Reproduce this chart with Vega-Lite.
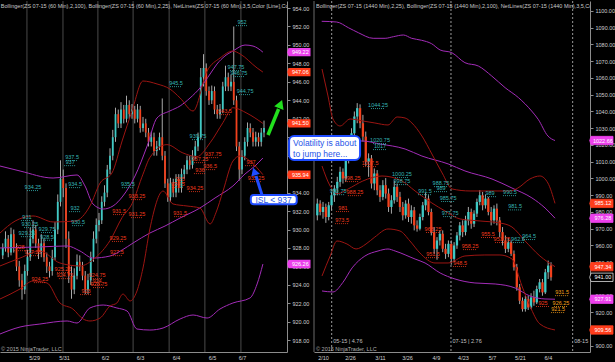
{
"$schema": "https://vega.github.io/schema/vega-lite/v6.json",
"background": "#000000",
"padding": {"left": 0, "top": 0, "right": 0, "bottom": 1},
"bounds": "flush",
"spacing": 27,
"config": {
  "view": {"stroke": null},
  "scale": {"continuousPadding": 0},
  "axis": {"labelFont": "Liberation Sans", "labelFontSize": 5.5, "labelColor": "#d0d0d0", "domainColor": "#8c8c8c", "tickColor": "#8c8c8c", "tickSize": 3, "grid": false, "labelOverlap": false},
  "text": {"font": "Liberation Sans", "fontSize": 5.5}
},
"datasets": {
  "candlesL": [
    {"i":1,"o":927.2,"h":928.5,"l":926.8,"c":928.0},{"i":2,"o":928.0,"h":929.8,"l":927.6,"c":929.0},{"i":3,"o":929.0,"h":929.4,"l":927.0,"c":927.5},{"i":4,"o":927.5,"h":930.2,"l":927.2,"c":929.5},{"i":5,"o":929.5,"h":930.0,"l":927.5,"c":928.0},{"i":6,"o":928.0,"h":928.5,"l":925.5,"c":926.0},{"i":7,"o":926.0,"h":926.6,"l":923.8,"c":924.5},{"i":8,"o":924.5,"h":925.2,"l":922.4,"c":923.5},{"i":9,"o":923.5,"h":926.2,"l":923.0,"c":925.5},{"i":10,"o":925.5,"h":927.8,"l":925.0,"c":927.0},
    {"i":11,"o":927.0,"h":930.2,"l":926.6,"c":929.0},{"i":12,"o":929.0,"h":931.0,"l":928.5,"c":930.0},{"i":13,"o":930.0,"h":930.5,"l":928.0,"c":928.5},{"i":14,"o":928.5,"h":929.0,"l":926.8,"c":927.5},{"i":15,"o":927.5,"h":929.5,"l":927.0,"c":928.5},{"i":16,"o":928.5,"h":929.0,"l":926.5,"c":927.0},{"i":17,"o":927.0,"h":927.5,"l":925.3,"c":926.0},{"i":18,"o":926.0,"h":926.5,"l":924.8,"c":925.5},{"i":19,"o":925.5,"h":927.8,"l":925.0,"c":927.0},{"i":20,"o":927.0,"h":930.8,"l":926.7,"c":930.0},
    {"i":21,"o":930.0,"h":933.8,"l":929.5,"c":933.0},{"i":22,"o":933.0,"h":937.5,"l":932.5,"c":935.5},{"i":23,"o":935.5,"h":936.5,"l":933.5,"c":934.5},{"i":24,"o":934.5,"h":935.0,"l":928.0,"c":929.0},{"i":25,"o":929.0,"h":929.8,"l":924.2,"c":925.0},{"i":26,"o":925.0,"h":926.0,"l":922.5,"c":923.5},{"i":27,"o":923.5,"h":925.8,"l":923.0,"c":925.0},{"i":28,"o":925.0,"h":927.3,"l":924.6,"c":926.5},{"i":29,"o":926.5,"h":927.2,"l":925.5,"c":926.0},{"i":30,"o":926.0,"h":926.5,"l":924.5,"c":925.0},
    {"i":31,"o":925.0,"h":925.5,"l":923.0,"c":923.5},{"i":32,"o":923.5,"h":925.2,"l":923.0,"c":924.5},{"i":33,"o":924.5,"h":927.6,"l":924.0,"c":927.0},{"i":34,"o":927.0,"h":929.8,"l":926.5,"c":929.0},{"i":35,"o":929.0,"h":931.2,"l":928.5,"c":930.5},{"i":36,"o":930.5,"h":931.8,"l":929.8,"c":931.0},{"i":37,"o":931.0,"h":933.6,"l":930.6,"c":933.0},{"i":38,"o":933.0,"h":934.8,"l":932.5,"c":934.0},{"i":39,"o":934.0,"h":937.0,"l":933.5,"c":936.5},{"i":40,"o":936.5,"h":938.8,"l":936.0,"c":938.0},
    {"i":41,"o":938.0,"h":940.8,"l":937.5,"c":940.0},{"i":42,"o":940.0,"h":943.2,"l":939.5,"c":942.5},{"i":43,"o":942.5,"h":943.0,"l":941.0,"c":941.5},{"i":44,"o":941.5,"h":943.8,"l":941.0,"c":943.0},{"i":45,"o":943.0,"h":943.5,"l":941.5,"c":942.0},{"i":46,"o":942.0,"h":944.5,"l":941.6,"c":943.5},{"i":47,"o":943.5,"h":944.0,"l":942.0,"c":942.5},{"i":48,"o":942.5,"h":943.6,"l":942.0,"c":943.0},{"i":49,"o":943.0,"h":943.4,"l":941.5,"c":942.0},{"i":50,"o":942.0,"h":943.6,"l":941.6,"c":943.0},
    {"i":51,"o":943.0,"h":943.4,"l":940.5,"c":941.0},{"i":52,"o":941.0,"h":942.2,"l":940.6,"c":941.5},{"i":53,"o":941.5,"h":942.0,"l":940.0,"c":940.5},{"i":54,"o":940.5,"h":941.0,"l":939.0,"c":939.5},{"i":55,"o":939.5,"h":940.6,"l":939.0,"c":940.0},{"i":56,"o":940.0,"h":940.5,"l":938.0,"c":938.5},{"i":57,"o":938.5,"h":939.6,"l":938.0,"c":939.0},{"i":58,"o":939.0,"h":940.5,"l":938.6,"c":940.0},{"i":59,"o":940.0,"h":944.2,"l":937.5,"c":938.0},{"i":60,"o":938.0,"h":938.5,"l":934.5,"c":935.0},
    {"i":61,"o":935.0,"h":935.5,"l":933.0,"c":933.5},{"i":62,"o":933.5,"h":935.6,"l":933.0,"c":935.0},{"i":63,"o":935.0,"h":935.5,"l":933.5,"c":934.0},{"i":64,"o":934.0,"h":936.0,"l":933.5,"c":935.5},{"i":65,"o":935.5,"h":936.0,"l":934.0,"c":934.5},{"i":66,"o":934.5,"h":936.6,"l":934.0,"c":936.0},{"i":67,"o":936.0,"h":937.0,"l":935.5,"c":936.5},{"i":68,"o":936.5,"h":938.0,"l":936.0,"c":937.5},{"i":69,"o":937.5,"h":938.0,"l":936.5,"c":937.0},{"i":70,"o":937.0,"h":938.6,"l":936.6,"c":938.0},
    {"i":71,"o":938.0,"h":939.6,"l":937.6,"c":939.0},{"i":72,"o":939.0,"h":940.5,"l":938.5,"c":940.0},{"i":73,"o":940.0,"h":947.5,"l":939.8,"c":946.5},{"i":74,"o":946.5,"h":949.0,"l":945.5,"c":947.5},{"i":75,"o":947.5,"h":948.0,"l":944.5,"c":945.0},{"i":76,"o":945.0,"h":945.5,"l":943.5,"c":944.0},{"i":77,"o":944.0,"h":945.6,"l":943.6,"c":945.0},{"i":78,"o":945.0,"h":945.5,"l":942.5,"c":943.0},{"i":79,"o":943.0,"h":943.5,"l":942.0,"c":942.5},{"i":80,"o":942.5,"h":943.6,"l":942.0,"c":943.0},
    {"i":81,"o":943.0,"h":946.0,"l":942.6,"c":945.5},{"i":82,"o":945.5,"h":947.75,"l":945.0,"c":946.5},{"i":83,"o":946.5,"h":947.0,"l":945.0,"c":945.5},{"i":84,"o":945.5,"h":946.8,"l":945.0,"c":946.0},{"i":85,"o":946.0,"h":952.0,"l":943.5,"c":944.0},{"i":86,"o":944.0,"h":944.5,"l":938.5,"c":939.0},{"i":87,"o":939.0,"h":939.5,"l":935.3,"c":936.5},{"i":88,"o":936.5,"h":938.6,"l":936.0,"c":938.0},{"i":89,"o":938.0,"h":940.0,"l":937.5,"c":939.5},{"i":90,"o":939.5,"h":941.6,"l":939.0,"c":941.0},
    {"i":91,"o":941.0,"h":941.5,"l":940.0,"c":940.5},{"i":92,"o":940.5,"h":941.0,"l":939.0,"c":939.5},{"i":93,"o":939.5,"h":940.6,"l":939.0,"c":940.0},{"i":94,"o":940.0,"h":940.5,"l":939.0,"c":939.5},{"i":95,"o":939.5,"h":941.0,"l":939.0,"c":940.5},{"i":96,"o":940.5,"h":941.8,"l":940.0,"c":941.0}
  ],
  "candlesR": [
    {"i":-2,"o":978,"h":988,"l":975,"c":985},{"i":-1,"o":985,"h":987,"l":978,"c":980},{"i":0,"o":980,"h":986,"l":976,"c":983},{"i":1,"o":983,"h":985,"l":973.5,"c":977},{"i":2,"o":977,"h":986,"l":975,"c":984},{"i":3,"o":984,"h":992,"l":981,"c":990},{"i":4,"o":990,"h":996,"l":986,"c":994},{"i":5,"o":994,"h":1001,"l":990,"c":998},{"i":6,"o":998,"h":1007,"l":995,"c":1004},{"i":7,"o":1004,"h":1006,"l":997,"c":1000},
    {"i":8,"o":1000,"h":1014,"l":998,"c":1012},{"i":9,"o":1012,"h":1022,"l":1009,"c":1020},{"i":10,"o":1020,"h":1030,"l":1016,"c":1027},{"i":11,"o":1027,"h":1040,"l":1024,"c":1037},{"i":12,"o":1037,"h":1045,"l":1033,"c":1042},{"i":13,"o":1042,"h":1044.25,"l":1030,"c":1033},{"i":14,"o":1033,"h":1038,"l":1022,"c":1025},{"i":15,"o":1025,"h":1028,"l":1007.5,"c":1010},{"i":16,"o":1010,"h":1015,"l":1001,"c":1012},{"i":17,"o":1012,"h":1014,"l":994,"c":997},
    {"i":18,"o":997,"h":1006,"l":993,"c":1003},{"i":19,"o":1003,"h":1005,"l":990,"c":993},{"i":20,"o":993,"h":996,"l":986,"c":989},{"i":21,"o":989,"h":999,"l":987,"c":996},{"i":22,"o":996,"h":1000.25,"l":988,"c":991},{"i":23,"o":991,"h":994,"l":980,"c":983},{"i":24,"o":983,"h":990,"l":979,"c":987},{"i":25,"o":987,"h":998.75,"l":985,"c":995},{"i":26,"o":995,"h":997,"l":986,"c":989},{"i":27,"o":989,"h":992,"l":980,"c":983},
    {"i":28,"o":983,"h":986,"l":975,"c":978},{"i":29,"o":978,"h":987,"l":976,"c":985},{"i":30,"o":985,"h":988,"l":974,"c":977},{"i":31,"o":977,"h":984,"l":973,"c":981},{"i":32,"o":981,"h":983,"l":969,"c":972},{"i":33,"o":972,"h":975,"l":968.25,"c":970},{"i":34,"o":970,"h":979,"l":969,"c":977},{"i":35,"o":977,"h":986,"l":975,"c":984},{"i":36,"o":984,"h":991.5,"l":981,"c":988},{"i":37,"o":988,"h":990,"l":978,"c":980},
    {"i":38,"o":980,"h":982,"l":966,"c":968},{"i":39,"o":968,"h":971,"l":955,"c":958},{"i":40,"o":958,"h":965,"l":951.5,"c":963},{"i":41,"o":963,"h":969,"l":960,"c":967},{"i":42,"o":967,"h":969,"l":956,"c":958},{"i":43,"o":958,"h":961,"l":952,"c":955},{"i":44,"o":955,"h":963,"l":953,"c":961},{"i":45,"o":961,"h":963,"l":948.5,"c":952},{"i":46,"o":952,"h":962,"l":950,"c":960},{"i":47,"o":960,"h":968,"l":958,"c":966},
    {"i":48,"o":966,"h":974,"l":963,"c":972},{"i":49,"o":972,"h":975,"l":965,"c":968},{"i":50,"o":968,"h":977.75,"l":966,"c":975},{"i":51,"o":975,"h":983,"l":972,"c":980},{"i":52,"o":980,"h":982,"l":970,"c":973},{"i":53,"o":973,"h":981,"l":971,"c":979},{"i":54,"o":979,"h":988,"l":977,"c":986},{"i":55,"o":986,"h":993,"l":984,"c":990},{"i":56,"o":990,"h":992,"l":981,"c":984},{"i":57,"o":984,"h":990.5,"l":982,"c":988},
    {"i":58,"o":988,"h":989,"l":978,"c":980},{"i":59,"o":980,"h":983,"l":972,"c":975},{"i":60,"o":975,"h":984,"l":973,"c":982},{"i":61,"o":982,"h":985,"l":972,"c":975},{"i":62,"o":975,"h":977,"l":965,"c":968},{"i":63,"o":968,"h":971,"l":960,"c":963},{"i":64,"o":963,"h":966,"l":955.5,"c":958},{"i":65,"o":958,"h":964.5,"l":956,"c":962},{"i":66,"o":962,"h":963,"l":953.75,"c":955},{"i":67,"o":955,"h":957,"l":945,"c":947},
    {"i":68,"o":947,"h":949,"l":933,"c":935},{"i":69,"o":935,"h":937,"l":925,"c":927},{"i":70,"o":927,"h":929,"l":920.5,"c":922},{"i":71,"o":922,"h":930,"l":920.5,"c":928},{"i":72,"o":928,"h":930,"l":921.5,"c":923},{"i":73,"o":923,"h":931.5,"l":922,"c":929},{"i":74,"o":929,"h":933,"l":924,"c":926},{"i":75,"o":926,"h":936,"l":925,"c":934},{"i":76,"o":934,"h":940,"l":932,"c":938},{"i":77,"o":938,"h":940,"l":930,"c":932},
    {"i":78,"o":932,"h":946,"l":931,"c":944},{"i":79,"o":944,"h":951,"l":940,"c":948},{"i":80,"o":948,"h":950,"l":939,"c":941}
  ],
  "bandsL": [
    {"b":"pu","i":0,"v":936.88},{"b":"pu","i":7.3,"v":936.34},{"b":"pu","i":19.3,"v":935.58},{"b":"pu","i":28,"v":935.91},{"b":"pu","i":30.9,"v":934.72},{"b":"pu","i":33.8,"v":932.77},{"b":"pu","i":37.5,"v":932.22},{"b":"pu","i":41.1,"v":932.55},{"b":"pu","i":44.7,"v":933.63},{"b":"pu","i":49.1,"v":935.8},{"b":"pu","i":53.5,"v":939.05},{"b":"pu","i":57.1,"v":942.09},{"b":"pu","i":61.8,"v":942.85},{"b":"pu","i":65.5,"v":943.39},{"b":"pu","i":69.1,"v":944.25},{"b":"pu","i":72.7,"v":945.33},{"b":"pu","i":76.4,"v":946.85},{"b":"pu","i":78.9,"v":947.93},{"b":"pu","i":81.8,"v":948.8},{"b":"pu","i":84.7,"v":949.34},{"b":"pu","i":89.1,"v":949.99},{"b":"pu","i":92,"v":949.88},{"b":"pu","i":95.6,"v":949.22},
    {"b":"pm","i":0,"v":928.0},{"b":"pm","i":14.5,"v":928.11},{"b":"pm","i":24.4,"v":928.22},{"b":"pm","i":29.1,"v":927.67},{"b":"pm","i":33.8,"v":926.91},{"b":"pm","i":40,"v":927.13},{"b":"pm","i":44.4,"v":927.78},{"b":"pm","i":48.4,"v":928.54},{"b":"pm","i":54.5,"v":929.62},{"b":"pm","i":60,"v":930.38},{"b":"pm","i":65.5,"v":931.25},{"b":"pm","i":72.7,"v":932.33},{"b":"pm","i":78.2,"v":933.42},{"b":"pm","i":84.7,"v":934.72},{"b":"pm","i":89.1,"v":936.02},{"b":"pm","i":92.7,"v":936.88},{"b":"pm","i":95.6,"v":937.75},
    {"b":"pl","i":0,"v":918.68},{"b":"pl","i":7.3,"v":919.44},{"b":"pl","i":14.5,"v":919.76},{"b":"pl","i":24.4,"v":920.09},{"b":"pl","i":28,"v":919.87},{"b":"pl","i":32.7,"v":921.5},{"b":"pl","i":37.5,"v":921.82},{"b":"pl","i":42.5,"v":921.5},{"b":"pl","i":46.2,"v":921.17},{"b":"pl","i":49.8,"v":919.22},{"b":"pl","i":54.5,"v":919.11},{"b":"pl","i":59.3,"v":919.33},{"b":"pl","i":65.5,"v":920.31},{"b":"pl","i":70.2,"v":920.74},{"b":"pl","i":75.3,"v":920.41},{"b":"pl","i":80,"v":921.39},{"b":"pl","i":84.7,"v":922.04},{"b":"pl","i":90.9,"v":922.58},{"b":"pl","i":93.5,"v":924.1},{"b":"pl","i":95.6,"v":926.26},
    {"b":"ru","i":0,"v":929.62},{"b":"ru","i":5.5,"v":930.92},{"b":"ru","i":12,"v":931.47},{"b":"ru","i":19.3,"v":930.82},{"b":"ru","i":27.3,"v":930.92},{"b":"ru","i":32.7,"v":932.55},{"b":"ru","i":36.4,"v":935.04},{"b":"ru","i":40.7,"v":936.12},{"b":"ru","i":44.4,"v":939.59},{"b":"ru","i":48,"v":942.84},{"b":"ru","i":52,"v":946.09},{"b":"ru","i":57.1,"v":945.77},{"b":"ru","i":61.8,"v":945.22},{"b":"ru","i":65.5,"v":944.25},{"b":"ru","i":70.2,"v":942.84},{"b":"ru","i":75.3,"v":947.17},{"b":"ru","i":80,"v":948.58},{"b":"ru","i":84.7,"v":949.34},{"b":"ru","i":87.3,"v":949.02},{"b":"ru","i":93.5,"v":947.5},{"b":"ru","i":95.6,"v":947.06},
    {"b":"rm","i":0,"v":926.05},{"b":"rm","i":7.3,"v":926.91},{"b":"rm","i":14.5,"v":927.67},{"b":"rm","i":21.8,"v":926.37},{"b":"rm","i":29.1,"v":926.05},{"b":"rm","i":34.5,"v":926.9},{"b":"rm","i":40,"v":928.8},{"b":"rm","i":44.4,"v":931.3},{"b":"rm","i":48,"v":932.8},{"b":"rm","i":52,"v":936.0},{"b":"rm","i":54.5,"v":937.8},{"b":"rm","i":60.7,"v":939.2},{"b":"rm","i":66.5,"v":938.3},{"b":"rm","i":71.6,"v":937.9},{"b":"rm","i":76.4,"v":939.4},{"b":"rm","i":81.1,"v":941.6},{"b":"rm","i":84.7,"v":943.2},{"b":"rm","i":89.8,"v":942.6},{"b":"rm","i":95.6,"v":941.5},
    {"b":"rl","i":0,"v":922.47},{"b":"rl","i":7.3,"v":923.56},{"b":"rl","i":12,"v":924.42},{"b":"rl","i":17.1,"v":924.21},{"b":"rl","i":21.8,"v":922.04},{"b":"rl","i":26.5,"v":921.39},{"b":"rl","i":30.2,"v":920.31},{"b":"rl","i":32.7,"v":920.09},{"b":"rl","i":36.4,"v":920.41},{"b":"rl","i":40,"v":921.71},{"b":"rl","i":42.5,"v":922.04},{"b":"rl","i":44.7,"v":923.01},{"b":"rl","i":47.3,"v":922.26},{"b":"rl","i":49.8,"v":923.34},{"b":"rl","i":52,"v":925.83},{"b":"rl","i":54.5,"v":930.06},{"b":"rl","i":59.3,"v":934.17},{"b":"rl","i":62.9,"v":932.77},{"b":"rl","i":68,"v":932.55},{"b":"rl","i":72.7,"v":932.33},{"b":"rl","i":76.4,"v":930.6},{"b":"rl","i":78.5,"v":931.8},{"b":"rl","i":81.1,"v":934.17},{"b":"rl","i":84.7,"v":937.42},{"b":"rl","i":87.3,"v":937.97},{"b":"rl","i":90.9,"v":937.42},{"b":"rl","i":95.6,"v":935.94}
  ],
  "bandsR": [
    {"b":"pu","i":-0.46,"v":1093.85},{"b":"pu","i":4.8,"v":1093.43},{"b":"pu","i":8.9,"v":1090.03},{"b":"pu","i":12.4,"v":1087.04},{"b":"pu","i":17.6,"v":1083.7},{"b":"pu","i":21.8,"v":1083.7},{"b":"pu","i":24.7,"v":1084.66},{"b":"pu","i":28.2,"v":1085.67},{"b":"pu","i":31.1,"v":1083.7},{"b":"pu","i":34.6,"v":1082.51},{"b":"pu","i":38.1,"v":1080.48},{"b":"pu","i":41.1,"v":1076.72},{"b":"pu","i":45.2,"v":1075.1},{"b":"pu","i":49.8,"v":1069.13},{"b":"pu","i":54.5,"v":1067.16},{"b":"pu","i":59.2,"v":1061.19},{"b":"pu","i":63.9,"v":1054.21},{"b":"pu","i":68.6,"v":1048.24},{"b":"pu","i":73.2,"v":1040.3},{"b":"pu","i":75.5,"v":1035.34},{"b":"pu","i":78.9,"v":1025.37},{"b":"pu","i":81.4,"v":1022.66},
    {"b":"pm","i":-0.35,"v":1013.5},{"b":"pm","i":3,"v":1016.5},{"b":"pm","i":6,"v":1019.5},{"b":"pm","i":10,"v":1021.5},{"b":"pm","i":13.7,"v":1022.4},{"b":"pm","i":20,"v":1020.6},{"b":"pm","i":28.8,"v":1017.6},{"b":"pm","i":34.7,"v":1013.4},{"b":"pm","i":43.9,"v":1008.7},{"b":"pm","i":49.8,"v":1004.5},{"b":"pm","i":59.3,"v":999.7},{"b":"pm","i":66.3,"v":994.3},{"b":"pm","i":73.3,"v":988.4},{"b":"pm","i":77.9,"v":982.4},{"b":"pm","i":81.4,"v":976.28},
    {"b":"pl","i":-0.35,"v":932.84},{"b":"pl","i":3.5,"v":932.24},{"b":"pl","i":7,"v":938},{"b":"pl","i":10.2,"v":946.6},{"b":"pl","i":14.7,"v":953.7},{"b":"pl","i":19.3,"v":956.7},{"b":"pl","i":22.8,"v":957.9},{"b":"pl","i":25.3,"v":956.7},{"b":"pl","i":32.3,"v":951.9},{"b":"pl","i":35.8,"v":949.55},{"b":"pl","i":41.1,"v":943.58},{"b":"pl","i":46.3,"v":940.0},{"b":"pl","i":53.3,"v":937.61},{"b":"pl","i":60.4,"v":937.01},{"b":"pl","i":67.4,"v":934.63},{"b":"pl","i":72.6,"v":929.85},{"b":"pl","i":77.9,"v":928.06},{"b":"pl","i":81.4,"v":927.91},
    {"b":"ru","i":-0.35,"v":1065.37},{"b":"ru","i":1.75,"v":1049.25},{"b":"ru","i":3.5,"v":1035.52},{"b":"ru","i":6,"v":1031.34},{"b":"ru","i":9.5,"v":1035.52},{"b":"ru","i":14,"v":1034.33},{"b":"ru","i":18.2,"v":1033.13},{"b":"ru","i":22.8,"v":1031.94},{"b":"ru","i":26,"v":1036.72},{"b":"ru","i":28.8,"v":1036.12},{"b":"ru","i":31.2,"v":1033.13},{"b":"ru","i":34.7,"v":1025.37},{"b":"ru","i":38.2,"v":1014.63},{"b":"ru","i":41.8,"v":1003.28},{"b":"ru","i":45.3,"v":993.73},{"b":"ru","i":51.6,"v":992.54},{"b":"ru","i":58.6,"v":992.54},{"b":"ru","i":65.6,"v":992.54},{"b":"ru","i":68.4,"v":994.33},{"b":"ru","i":72.6,"v":999.7},{"b":"ru","i":76.1,"v":1001.49},{"b":"ru","i":78.9,"v":997.31},{"b":"ru","i":81.4,"v":985.12},
    {"b":"rm","i":-0.35,"v":1007.46},{"b":"rm","i":2.5,"v":995.52},{"b":"rm","i":4.9,"v":990.75},{"b":"rm","i":8.8,"v":993.73},{"b":"rm","i":14,"v":998.51},{"b":"rm","i":20.7,"v":1001.49},{"b":"rm","i":27.7,"v":998.51},{"b":"rm","i":32.3,"v":992.54},{"b":"rm","i":38.2,"v":985.37},{"b":"rm","i":42.8,"v":980.6},{"b":"rm","i":48.1,"v":975.82},{"b":"rm","i":55.1,"v":974.63},{"b":"rm","i":62.1,"v":973.43},{"b":"rm","i":66.3,"v":971.04},{"b":"rm","i":70.9,"v":962.69},{"b":"rm","i":76.1,"v":953.73},{"b":"rm","i":81.4,"v":947.34},
    {"b":"rl","i":-0.35,"v":941.79},{"b":"rl","i":2.5,"v":953.73},{"b":"rl","i":4.9,"v":962.69},{"b":"rl","i":8.4,"v":960.9},{"b":"rl","i":11.6,"v":957.91},{"b":"rl","i":15.1,"v":960.9},{"b":"rl","i":18.2,"v":965.07},{"b":"rl","i":22.8,"v":969.85},{"b":"rl","i":27,"v":968.66},{"b":"rl","i":30.5,"v":962.69},{"b":"rl","i":34,"v":955.52},{"b":"rl","i":39.3,"v":949.55},{"b":"rl","i":43.9,"v":949.55},{"b":"rl","i":49.8,"v":953.73},{"b":"rl","i":56.8,"v":954.33},{"b":"rl","i":62.1,"v":954.33},{"b":"rl","i":66.3,"v":951.94},{"b":"rl","i":69.8,"v":935.82},{"b":"rl","i":72.6,"v":923.88},{"b":"rl","i":76.1,"v":913.13},{"b":"rl","i":81.4,"v":909.56}
  ],
  "labelsL": [
    {"i":88,"v":952.48,"t":"952","k":"hi"},{"i":85.8,"v":947.61,"t":"947.75","k":"hi"},{"i":86.9,"v":946.96,"t":"946.75","k":"hi"},{"i":64,"v":945.87,"t":"945.5","k":"hi"},{"i":89.1,"v":945.01,"t":"944.75","k":"hi"},{"i":81.8,"v":942.84,"t":"943.5","k":"lo"},{"i":72,"v":940.13,"t":"939.75","k":"hi"},{"i":77.5,"v":938.18,"t":"937.75","k":"lo"},{"i":72.7,"v":937.64,"t":"937.25","k":"lo"},{"i":76.4,"v":936.88,"t":"936.5","k":"lo"},{"i":72.7,"v":936.45,"t":"936","k":"lo"},{"i":91.3,"v":937.31,"t":"937","k":"lo"},{"i":93.1,"v":935.58,"t":"935.25","k":"lo"},{"i":65.5,"v":935.47,"t":"935","k":"lo"},{"i":64.7,"v":934.93,"t":"934.5","k":"lo"},{"i":70.9,"v":934.5,"t":"934.25","k":"lo"},{"i":49.8,"v":933.63,"t":"933.25","k":"lo"},{"i":49.8,"v":931.68,"t":"931.25","k":"lo"},{"i":43.3,"v":932.01,"t":"931.5","k":"lo"},{"i":65.5,"v":931.79,"t":"931.5","k":"lo"},{"i":46.5,"v":934.93,"t":"935.5","k":"hi"},{"i":26.2,"v":937.86,"t":"937.5","k":"hi"},{"i":25.5,"v":937.31,"t":"937","k":"hi"},{"i":12,"v":934.61,"t":"934.25","k":"hi"},{"i":27.3,"v":934.93,"t":"934.5","k":"hi"},{"i":27.3,"v":932.33,"t":"932","k":"hi"},{"i":28.4,"v":930.81,"t":"930.5","k":"hi"},{"i":9.8,"v":931.36,"t":"931","k":"hi"},{"i":10.9,"v":930.6,"t":"930.25","k":"hi"},{"i":9.8,"v":929.62,"t":"929.25","k":"hi"},{"i":17.1,"v":930.06,"t":"929.75","k":"hi"},{"i":17.1,"v":929.23,"t":"928.5","k":"hi"},{"i":7.3,"v":928.1,"t":"928","k":"lo"},{"i":12,"v":927.56,"t":"927.25","k":"lo"},{"i":22.9,"v":925.72,"t":"925.25","k":"lo"},{"i":23.6,"v":925.07,"t":"924.75","k":"lo"},{"i":14.5,"v":924.64,"t":"924.25","k":"lo"},{"i":35.3,"v":925.07,"t":"924.75","k":"lo"},{"i":35.3,"v":924.42,"t":"924","k":"lo"},{"i":36,"v":924.1,"t":"923.75","k":"lo"},{"i":31.3,"v":923.34,"t":"923","k":"lo"},{"i":42.9,"v":929.1,"t":"929.25","k":"lo"},{"i":42.5,"v":927.56,"t":"927.5","k":"lo"}
  ],
  "labelsR": [
    {"i":19.3,"v":1043.9,"t":"1044.25","k":"hi"},{"i":20,"v":1023.0,"t":"1020.75","k":"hi"},{"i":20,"v":1019.4,"t":"1017","k":"hi"},{"i":16.5,"v":1009.25,"t":"1007.5","k":"lo"},{"i":10.2,"v":1000.3,"t":"998.25","k":"lo"},{"i":5.3,"v":992.5,"t":"990.75","k":"hi"},{"i":11.2,"v":991.9,"t":"988.25","k":"lo"},{"i":7,"v":982.4,"t":"981","k":"lo"},{"i":6.7,"v":975.2,"t":"973.5","k":"lo"},{"i":27.7,"v":1002.7,"t":"1000.25","k":"hi"},{"i":27.7,"v":998.5,"t":"998.75","k":"hi"},{"i":35.8,"v":992.5,"t":"991.5","k":"hi"},{"i":41.4,"v":997.3,"t":"988.75","k":"hi"},{"i":41.4,"v":994.3,"t":"989","k":"hi"},{"i":43.9,"v":988.4,"t":"985.75","k":"hi"},{"i":44.6,"v":979.4,"t":"977.75","k":"hi"},{"i":38.6,"v":969.9,"t":"968.25","k":"lo"},{"i":58.6,"v":991.3,"t":"989","k":"hi"},{"i":65.6,"v":991.9,"t":"990.5","k":"hi"},{"i":67.4,"v":983.4,"t":"981.5","k":"hi"},{"i":72.3,"v":965.7,"t":"964.5","k":"hi"},{"i":68.4,"v":963.9,"t":"962.5","k":"hi"},{"i":57.9,"v":966.9,"t":"955.5","k":"lo"},{"i":62.8,"v":963.9,"t":"953.75","k":"lo"},{"i":51.6,"v":959.7,"t":"958.25","k":"lo"},{"i":38.6,"v":954.9,"t":"951.5","k":"lo"},{"i":48.1,"v":949.6,"t":"948.5","k":"lo"},{"i":83.9,"v":932.2,"t":"931.5","k":"or"},{"i":83.5,"v":925.7,"t":"926.25","k":"or"},{"i":82.5,"v":922.1,"t":"921.5","k":"or"},{"i":77.2,"v":925.7,"t":"925","k":"lo"}
  ],
  "markersL": [{"v":949.22,"k":"m"},{"v":947.06,"k":"r"},{"v":941.5,"k":"r"},{"v":935.94,"k":"r"},{"v":926.26,"k":"m"}],
  "markersR": [{"v":1022.66,"k":"m"},{"v":985.12,"k":"r"},{"v":976.28,"k":"m"},{"v":947.34,"k":"r"},{"v":941.0,"k":"b"},{"v":927.91,"k":"m"},{"v":909.56,"k":"r"}],
  "daysL": [{"i":9.8},{"i":22.9},{"i":35.6},{"i":48.4},{"i":61.5},{"i":74.5},{"i":87.6}],
  "rollR": [{"i":3.05,"t":"05-15 | 4.76"},{"i":44.9,"t":"07-15 | 2.76"},{"i":87.6,"t":"08-15"}],
  "headL": [{"t":"Bollinger(ZS 07-15 (60 Min),2,100), Bollinger(ZS 07-15 (60 Min),2,25), NetLines(ZS 07-15 (60 Min),3,5,Color [Line],Color [Dot])"}],
  "headR": [{"t":"Bollinger(ZS 07-15 (1440 Min),2,25), Bollinger(ZS 07-15 (1440 Min),2,100), NetLines(ZS 07-15 (1440 Min),3,5,Color [Line],Color [Dot])"}],
  "copy": [{"t":"© 2015 NinjaTrader, LLC"}],
  "isl": [{"t":"ISL < 937"}],
  "vol": [{"t":"Volatility is about\nto jump here..."}],
  "one": [{"n":1}]
},
"hconcat": [
  {
    "width": 287, "height": 351,
    "resolve": {"scale": {"color": "independent"}},
    "layer": [
      {"data": {"name": "daysL"}, "mark": {"type": "rule", "color": "#4a4a4a", "strokeWidth": 1},
       "encoding": {"x": {"field": "i", "type": "quantitative", "title": null, "scale": {"domain": [0, 104.36], "nice": false, "zero": false, "padding": 0},
         "axis": {"orient": "bottom", "values": [12.4, 23.3, 38.2, 50.9, 64, 77.1, 88], "tickCount": 100, "labelExpr": "['5/29','5/31','6/2','6/3','6/4','6/5','6/7'][indexof([12.4,23.3,38.2,50.9,64,77.1,88], datum.value)]", "ticks": false, "labelPadding": 3, "domain": true, "labelOverlap": false}}}},
      {"data": {"name": "candlesL"}, "mark": {"type": "rule", "color": "#a8a8a8", "strokeWidth": 1},
       "encoding": {"x": {"field": "i", "type": "quantitative", "title": null},
         "y": {"field": "l", "type": "quantitative", "title": null, "scale": {"domain": [916.73, 954.76], "nice": false, "zero": false, "padding": 0},
           "axis": {"orient": "right", "values": [918,920,922,924,926,928,930,932,934,936,938,940,942,944,946,948,950,952,954], "tickCount": 100, "format": ".2f", "labelPadding": 2, "labelOverlap": false}},
         "y2": {"field": "h"}}},
      {"data": {"name": "candlesL"}, "mark": {"type": "bar", "width": 1.8},
       "encoding": {"x": {"field": "i", "type": "quantitative", "title": null},
         "y": {"field": "o", "type": "quantitative", "title": null}, "y2": {"field": "c"},
         "color": {"condition": {"test": "datum.c >= datum.o", "value": "#3ec9c4"}, "value": "#f2411d"}}},
      {"data": {"name": "bandsL"}, "mark": {"type": "line", "strokeWidth": 1, "interpolate": "monotone", "clip": true},
       "encoding": {"x": {"field": "i", "type": "quantitative", "title": null},
         "y": {"field": "v", "type": "quantitative", "title": null},
         "color": {"field": "b", "type": "nominal", "legend": null, "scale": {"domain": ["pu","pm","pl","ru","rm","rl"], "range": ["#a32cb8","#a32cb8","#a32cb8","#9c1512","#9c1512","#9c1512"]}}}},
      {"data": {"name": "labelsL"}, "mark": {"type": "rule", "strokeWidth": 0.8, "strokeDash": [1, 1], "xOffset": -6, "x2Offset": 6, "yOffset": 3.6},
       "encoding": {"x": {"field": "i", "type": "quantitative", "title": null}, "x2": {"field": "i"},
         "y": {"field": "v", "type": "quantitative", "title": null},
         "color": {"field": "k", "type": "nominal", "legend": null, "scale": {"domain": ["hi","lo","or"], "range": ["#35b5b5","#f03a1c","#f5a01a"]}}}},
      {"data": {"name": "labelsL"}, "mark": {"type": "text", "fontSize": 5.5, "align": "center", "baseline": "middle"},
       "encoding": {"x": {"field": "i", "type": "quantitative", "title": null},
         "y": {"field": "v", "type": "quantitative", "title": null},
         "text": {"field": "t"},
         "color": {"field": "k", "type": "nominal", "legend": null, "scale": {"domain": ["hi","lo","or"], "range": ["#35b5b5","#f03a1c","#f5a01a"]}}}},
      {"data": {"name": "headL"}, "mark": {"type": "text", "align": "left", "baseline": "middle", "fontSize": 5.5, "color": "#c8c8c8", "clip": true},
       "encoding": {"x": {"datum": 0.3, "type": "quantitative"}, "y": {"datum": 954.22, "type": "quantitative"}, "text": {"field": "t"}}},
      {"data": {"name": "copy"}, "mark": {"type": "text", "align": "left", "baseline": "middle", "fontSize": 5.5, "color": "#b0b0b0"},
       "encoding": {"x": {"datum": 0.36, "type": "quantitative"}, "y": {"datum": 917.05, "type": "quantitative"}, "text": {"field": "t"}}},
      {"data": {"name": "markersL"}, "mark": {"type": "point", "filled": true, "opacity": 1, "size": 484, "shape": "M-1.12,0L-1,-0.38L1,-0.38L1,0.38L-1,0.38Z"},
       "encoding": {"x": {"datum": 108.9, "type": "quantitative"}, "y": {"field": "v", "type": "quantitative", "title": null},
         "color": {"field": "k", "type": "nominal", "legend": null, "scale": {"domain": ["m","r","b"], "range": ["#ec40ec","#ff3d1c","#000000"]}}}},
      {"data": {"name": "markersL"}, "mark": {"type": "text", "fontSize": 5.5, "color": "#ffffff", "align": "center", "baseline": "middle"},
       "encoding": {"x": {"datum": 109.2, "type": "quantitative"}, "y": {"field": "v", "type": "quantitative", "title": null}, "text": {"field": "v", "format": ".2f"}}},
      {"data": {"name": "isl"}, "mark": {"type": "rect", "fill": "#ffffff", "stroke": "#1f4cff", "strokeWidth": 2, "cornerRadius": 3},
       "encoding": {"x": {"datum": 91.2, "type": "quantitative"}, "x2": {"datum": 107.9}, "y": {"datum": 933.74, "type": "quantitative"}, "y2": {"datum": 932.73}}},
      {"data": {"name": "isl"}, "mark": {"type": "text", "fontSize": 8.5, "color": "#1f55e8", "align": "center", "baseline": "middle"},
       "encoding": {"x": {"datum": 99.5, "type": "quantitative"}, "y": {"datum": 933.23, "type": "quantitative"}, "text": {"field": "t"}}},
      {"data": {"name": "one"}, "mark": {"type": "rule", "color": "#1f4cff", "strokeWidth": 3},
       "encoding": {"x": {"datum": 95.27, "type": "quantitative"}, "x2": {"datum": 93.1}, "y": {"datum": 933.74, "type": "quantitative"}, "y2": {"datum": 935.8}}},
      {"data": {"name": "one"}, "mark": {"type": "point", "shape": "triangle-up", "filled": true, "opacity": 1, "color": "#1f4cff", "size": 80, "angle": -18},
       "encoding": {"x": {"datum": 92.5, "type": "quantitative"}, "y": {"datum": 936.29, "type": "quantitative"}}},
      {"data": {"name": "one"}, "mark": {"type": "rule", "color": "#22e01e", "strokeWidth": 3.5},
       "encoding": {"x": {"datum": 97.45, "type": "quantitative"}, "x2": {"datum": 101.3}, "y": {"datum": 940.24, "type": "quantitative"}, "y2": {"datum": 943.06}}},
      {"data": {"name": "one"}, "mark": {"type": "point", "shape": "triangle-up", "filled": true, "opacity": 1, "color": "#22e01e", "size": 100, "angle": 22},
       "encoding": {"x": {"datum": 102.0, "type": "quantitative"}, "y": {"datum": 943.6, "type": "quantitative"}}}
    ]
  },
  {
    "width": 276, "height": 351,
    "resolve": {"scale": {"color": "independent", "stroke": "independent"}},
    "layer": [
      {"data": {"name": "rollR"}, "mark": {"type": "rule", "color": "#9a9a9a", "strokeWidth": 1, "strokeDash": [2, 2]},
       "encoding": {"x": {"field": "i", "type": "quantitative", "title": null, "scale": {"domain": [-3.16, 93.68], "nice": false, "zero": false, "padding": 0},
         "axis": {"orient": "bottom", "values": [0, 9.5, 20, 29.5, 39.6, 49.1, 59.3, 69.1, 78.9], "tickCount": 100, "labelExpr": "['2/10','2/26','3/11','3/26','4/9','4/23','5/7','5/21','6/4'][indexof([0,9.5,20,29.5,39.6,49.1,59.3,69.1,78.9], datum.value)]", "ticks": false, "labelPadding": 3, "domain": true, "labelOverlap": false}}}},
      {"data": {"name": "one"}, "mark": {"type": "rule", "color": "#6a6a6a", "strokeWidth": 1},
       "encoding": {"x": {"datum": -3.16, "type": "quantitative"}}},
      {"data": {"name": "candlesR"}, "mark": {"type": "rule", "color": "#a8a8a8", "strokeWidth": 1},
       "encoding": {"x": {"field": "i", "type": "quantitative", "title": null},
         "y": {"field": "l", "type": "quantitative", "title": null, "scale": {"domain": [896.4, 1105.97], "nice": false, "zero": false, "padding": 0},
           "axis": {"orient": "right", "values": [900,910,920,930,940,950,960,970,980,990,1000,1010,1020,1030,1040,1050,1060,1070,1080,1090,1100], "tickCount": 100, "format": ".2f", "labelPadding": 2, "labelOverlap": false}},
         "y2": {"field": "h"}}},
      {"data": {"name": "candlesR"}, "mark": {"type": "bar", "width": 2.3},
       "encoding": {"x": {"field": "i", "type": "quantitative", "title": null},
         "y": {"field": "o", "type": "quantitative", "title": null}, "y2": {"field": "c"},
         "color": {"condition": {"test": "datum.c >= datum.o", "value": "#3ec9c4"}, "value": "#f2411d"}}},
      {"data": {"name": "bandsR"}, "mark": {"type": "line", "strokeWidth": 1, "interpolate": "monotone", "clip": true},
       "encoding": {"x": {"field": "i", "type": "quantitative", "title": null},
         "y": {"field": "v", "type": "quantitative", "title": null},
         "color": {"field": "b", "type": "nominal", "legend": null, "scale": {"domain": ["pu","pm","pl","ru","rm","rl"], "range": ["#a32cb8","#a32cb8","#a32cb8","#9c1512","#9c1512","#9c1512"]}}}},
      {"data": {"name": "labelsR"}, "mark": {"type": "rule", "strokeWidth": 0.8, "strokeDash": [1, 1], "xOffset": -7, "x2Offset": 7, "yOffset": 3.6},
       "encoding": {"x": {"field": "i", "type": "quantitative", "title": null}, "x2": {"field": "i"},
         "y": {"field": "v", "type": "quantitative", "title": null},
         "color": {"field": "k", "type": "nominal", "legend": null, "scale": {"domain": ["hi","lo","or"], "range": ["#35b5b5","#f03a1c","#f5a01a"]}}}},
      {"data": {"name": "labelsR"}, "mark": {"type": "text", "fontSize": 5.5, "align": "center", "baseline": "middle"},
       "encoding": {"x": {"field": "i", "type": "quantitative", "title": null},
         "y": {"field": "v", "type": "quantitative", "title": null},
         "text": {"field": "t"},
         "color": {"field": "k", "type": "nominal", "legend": null, "scale": {"domain": ["hi","lo","or"], "range": ["#35b5b5","#f03a1c","#f5a01a"]}}}},
      {"data": {"name": "rollR"}, "mark": {"type": "text", "align": "left", "baseline": "middle", "fontSize": 5.5, "color": "#c0c0c0", "dx": 1.5},
       "encoding": {"x": {"field": "i", "type": "quantitative", "title": null}, "y": {"datum": 902.99, "type": "quantitative"}, "text": {"field": "t"}}},
      {"data": {"name": "headR"}, "mark": {"type": "text", "align": "left", "baseline": "middle", "fontSize": 5.5, "color": "#c8c8c8", "clip": true},
       "encoding": {"x": {"datum": -2.46, "type": "quantitative"}, "y": {"datum": 1102.99, "type": "quantitative"}, "text": {"field": "t"}}},
      {"data": {"name": "copy"}, "mark": {"type": "text", "align": "left", "baseline": "middle", "fontSize": 5.5, "color": "#b0b0b0"},
       "encoding": {"x": {"datum": -2.46, "type": "quantitative"}, "y": {"datum": 898.2, "type": "quantitative"}, "text": {"field": "t"}}},
      {"data": {"name": "markersR"}, "mark": {"type": "point", "filled": true, "opacity": 1, "size": 484, "shape": "M-1.12,0L-1,-0.38L1,-0.38L1,0.38L-1,0.38Z", "strokeWidth": 0.8},
       "encoding": {"x": {"datum": 97.9, "type": "quantitative"}, "y": {"field": "v", "type": "quantitative", "title": null},
         "color": {"field": "k", "type": "nominal", "legend": null, "scale": {"domain": ["m","r","b"], "range": ["#ec40ec","#ff3d1c","#000000"]}},
         "stroke": {"field": "k", "type": "nominal", "legend": null, "scale": {"domain": ["m","r","b"], "range": ["#ec40ec","#ff3d1c","#e0e0e0"]}}}},
      {"data": {"name": "markersR"}, "mark": {"type": "text", "fontSize": 5.5, "color": "#ffffff", "align": "center", "baseline": "middle"},
       "encoding": {"x": {"datum": 98.2, "type": "quantitative"}, "y": {"field": "v", "type": "quantitative", "title": null}, "text": {"field": "v", "format": ".2f"}}},
      {"data": {"name": "one"}, "mark": {"type": "rect", "fill": "#ffffff", "stroke": "#1f4cff", "strokeWidth": 2, "cornerRadius": 5},
       "encoding": {"x": {"datum": -11.9, "type": "quantitative"}, "x2": {"datum": 13.0}, "y": {"datum": 1025.4, "type": "quantitative"}, "y2": {"datum": 1011.0}}},
      {"data": {"name": "vol"}, "mark": {"type": "text", "fontSize": 8.5, "color": "#1f55e8", "align": "left", "baseline": "middle", "lineBreak": "\n", "lineHeight": 10.2},
       "encoding": {"x": {"datum": -10.5, "type": "quantitative"}, "y": {"datum": 1021.0, "type": "quantitative"}, "text": {"field": "t"}}}
    ]
  }
]
}
